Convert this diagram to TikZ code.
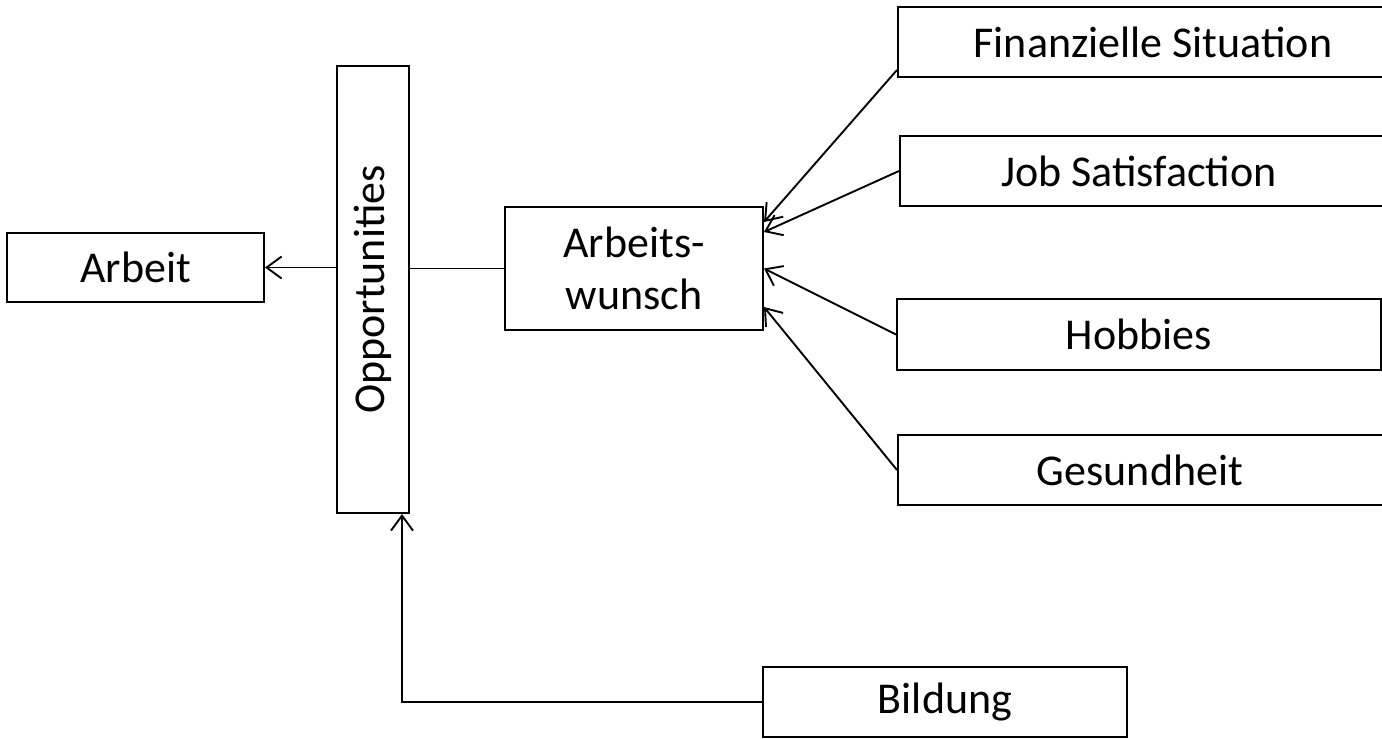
\documentclass[tikz,border=0pt]{standalone}
\usepackage{fontspec}
\setmainfont{Carlito}
\usetikzlibrary{arrows.meta}
\begin{document}
\begin{tikzpicture}[x=1pt,y=-1pt,
  box/.style={draw=black, line width=2pt, inner sep=0pt, align=center,
    font=\fontsize{44}{52}\selectfont},
  conn/.style={line width=1.9pt},
  arr/.style={conn, -{Straight Barb[length=15pt,width=22pt,line width=1.9pt]}}]
\useasboundingbox (0,0) rectangle (1382,739);
\clip (0,0) rectangle (1382,739);
\node[box, minimum width=257pt, minimum height=69pt] (arbeit) at (135.5,267.5) {Arbeit};
\node[box, minimum width=72pt, minimum height=447pt] (opp) at (373,289.5) {};
\node[rotate=90, font=\fontsize{44}{52}\selectfont, inner sep=0pt] (opptext) at (opp.center) {Opportunities};
\node[box, minimum width=258pt, minimum height=123pt] (wunsch) at (634,268.5) {Arbeits-\\wunsch};
\node[box, minimum width=510pt, minimum height=70pt] (fin) at (1153,42) {Finanzielle Situation};
\node[box, minimum width=500pt, minimum height=70pt] (job) at (1150,171) {\hspace*{-22pt}Job Satisfaction};
\node[box, minimum width=484pt, minimum height=71pt] (hob) at (1139,334.5) {Hobbies};
\node[box, minimum width=500pt, minimum height=70pt] (ges) at (1148,470) {\hspace*{-16pt}Gesundheit};
\node[box, minimum width=364pt, minimum height=70pt] (bild) at (945,702) {Bildung};

\draw[arr] (opp.west |- arbeit.east) -- (arbeit.east);
\draw[conn] (opp.east |- wunsch.west) -- (wunsch.west);
\draw[arr] ([yshift=8pt]fin.south west) -- ([yshift=-16pt]wunsch.north east);
\draw[arr] (job.west) -- ([yshift=-26pt]wunsch.north east);
\draw[arr] (hob.west) -- (wunsch.east);
\draw[arr] (ges.west) -- ([yshift=24pt]wunsch.south east);
\draw[arr] (bild.west) -| ([xshift=-8pt]opp.south east);
\end{tikzpicture}
\end{document}
